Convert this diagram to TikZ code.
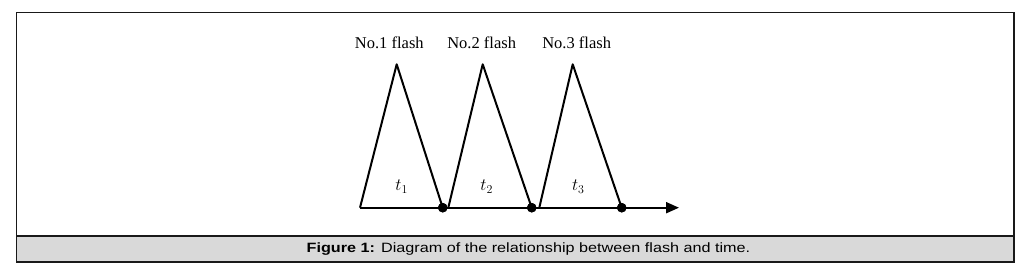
\documentclass[tikz,border=0pt]{standalone}
\usepackage{fontspec}
\setmainfont{Liberation Serif}
\newfontfamily\capfont{Liberation Sans}
\usetikzlibrary{arrows.meta}
\begin{document}
\begin{tikzpicture}[x=1pt,y=-1pt,
  frame/.style={draw=black!90,line width=1.5pt},
  wave/.style={draw=black,line width=2pt,line join=round},
  dotmark/.style={circle,fill=black,inner sep=0pt,minimum size=9.5pt},
  flashlabel/.style={font=\fontsize{16.5}{18}\selectfont,inner sep=0pt},
  tlabel/.style={font=\fontsize{17}{19}\selectfont,inner sep=0pt},
  captext/.style={font=\capfont\fontsize{13.5}{15}\selectfont,inner sep=0pt,xscale=1.2}]
\useasboundingbox (0,0) rectangle (1036,267);
% frame
\fill[black!15] (16.5,236) rectangle (1014,262);
\draw[frame] (16.5,12.5) rectangle (1014,262);
\draw[frame] (16.5,236) -- (1014,236);
\node[captext] (cap) at (528.5,249.5) {\textbf{Figure 1:} Diagram of the relationship between flash and time.};
% coordinates
\coordinate (s) at (360,207.7);
\coordinate (a1) at (396.7,64.3);
\node[dotmark] (d1) at (442.7,207.7) {};
\coordinate (b2) at (448.3,207.7);
\coordinate (a2) at (482.7,64.3);
\node[dotmark] (d2) at (531.7,207.7) {};
\coordinate (b3) at (539.3,207.7);
\coordinate (a3) at (572.7,64.3);
\node[dotmark] (d3) at (621.7,207.7) {};
\coordinate (e) at (679,207.7);
% axis
\draw[wave,-{Triangle[length=13pt,width=11pt]}] (s) -- (e);
% triangles
\draw[wave] (s) -- (a1) -- (d1.center);
\draw[wave] (b2) -- (a2) -- (d2.center);
\draw[wave] (b3) -- (a3) -- (d3.center);
\node[dotmark] at (d1) {};
\node[dotmark] at (d2) {};
\node[dotmark] at (d3) {};
% labels
\node[flashlabel] (f1) at (389.3,43.3) {No.1 flash};
\node[flashlabel] (f2) at (481.7,43.3) {No.2 flash};
\node[flashlabel] (f3) at (576.7,43.3) {No.3 flash};
\node[tlabel] (t1) at (401.7,186.5) {$t_1$};
\node[tlabel] (t2) at (486.7,186.5) {$t_2$};
\node[tlabel] (t3) at (578.3,186.5) {$t_3$};
\end{tikzpicture}
\end{document}
